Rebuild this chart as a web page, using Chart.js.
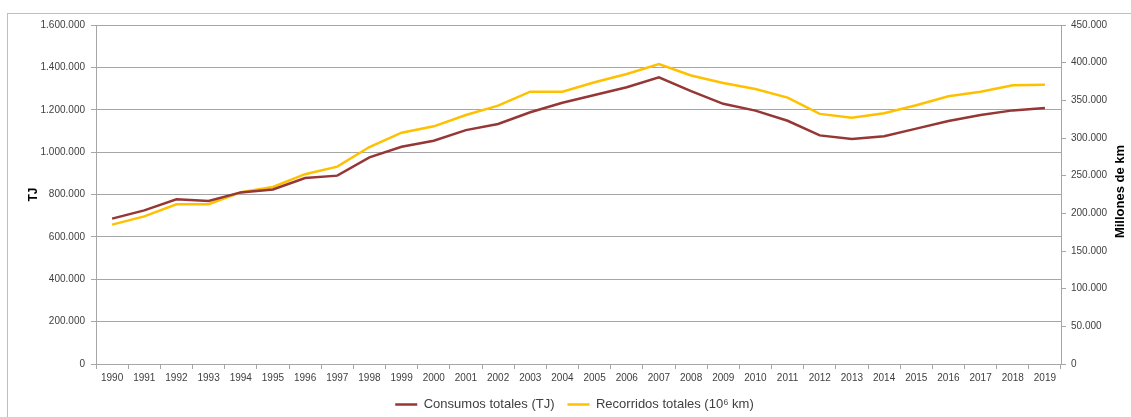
<!DOCTYPE html>
<html>
<head>
<meta charset="utf-8">
<script src="https://cdn.jsdelivr.net/npm/chart.js@4/dist/chart.umd.min.js"></script>
<style>
  html, body { margin: 0; padding: 0; background: #fff; }
  #wrap { position: relative; width: 1131px; height: 417px; }
  #frame { position: absolute; left: 7px; top: 13px; width: 1130px; height: 410px; border: 1px solid #bfbfbf; box-sizing: border-box; }
  canvas { position: absolute; left: 0; top: 0; }
</style>
</head>
<body>
<div id="wrap">
  <div id="frame"></div>
  <canvas id="myChart" width="1131" height="417"></canvas>
</div>
<script>
// data
const years = ['1990','1991','1992','1993','1994','1995','1996','1997','1998','1999',
  '2000','2001','2002','2003','2004','2005','2006','2007','2008','2009',
  '2010','2011','2012','2013','2014','2015','2016','2017','2018','2019'];

// TJ, left axis
const consumos = [686000, 725000, 777000, 769000, 810000, 824000, 878000, 889000, 975000, 1025000,
  1054000, 1104000, 1133000, 1188000, 1233000, 1270000, 1306000, 1353000, 1288000, 1228000,
  1196000, 1148000, 1079000, 1062000, 1075000, 1111000, 1147000, 1175000, 1197000, 1208000];

// millones de km, right axis
const recorridos = [185000, 196000, 212000, 212000, 228000, 235000, 252000, 262000, 288000, 307000,
  315500, 330500, 343000, 361500, 361500, 374000, 385000, 398000, 383000, 373000,
  365000, 353600, 332000, 327000, 332800, 343400, 355300, 361500, 370000, 370800];

const leftTicks = [0, 200000, 400000, 600000, 800000, 1000000, 1200000, 1400000, 1600000];
const rightTicks = [0, 50000, 100000, 150000, 200000, 250000, 300000, 350000, 400000, 450000];

const fmt = v => String(v).replace(/\B(?=(\d{3})+(?!\d))/g, '.');

const tickFont = { family: 'Liberation Sans', size: 10 };
const textColor = '#404040';

// right axis title reads bottom-to-top, like Excel
const rightTitle = {
    id: 'rightTitle',
    afterDraw(chart) {
        const { ctx, chartArea } = chart;
        ctx.save();
        ctx.translate(1120, (chartArea.top + chartArea.bottom) / 2 - 3);
        ctx.rotate(-Math.PI / 2);
        ctx.fillStyle = '#000';
        ctx.font = 'bold 13px "Liberation Sans"';
        ctx.textAlign = 'center';
        ctx.textBaseline = 'middle';
        ctx.fillText('Millones de km', 0, 0);
        ctx.restore();
    }
};

const ctx = document.getElementById('myChart').getContext('2d');
new Chart(ctx, {
    type: 'line',
    data: {
        labels: years,
        datasets: [{
            label: 'Consumos totales (TJ)',
            data: consumos,
            borderColor: '#953735',
            backgroundColor: '#953735',
            borderWidth: 2.5,
            pointRadius: 0,
            tension: 0,
            yAxisID: 'y'
        }, {
            label: 'Recorridos totales (10\u2076 km)',
            data: recorridos,
            borderColor: '#FFC000',
            backgroundColor: '#FFC000',
            borderWidth: 2.5,
            pointRadius: 0,
            tension: 0,
            yAxisID: 'y1'
        }]
    },
    plugins: [rightTitle],
    options: {
        responsive: false,
        animation: false,
        layout: { padding: { left: 22, right: 4, top: 25, bottom: -4 } },
        plugins: {
            tooltip: { enabled: false },
            legend: {
                position: 'bottom',
                labels: {
                    usePointStyle: true,
                    pointStyle: 'line',
                    pointStyleWidth: 22,
                    boxWidth: 22,
                    boxHeight: 2,
                    padding: 13,
                    color: textColor,
                    font: { family: 'Liberation Sans', size: 13 }
                }
            }
        },
        scales: {
            x: {
                offset: true,
                afterFit: s => { s.height = 21; },
                grid: { display: true, drawOnChartArea: false, offset: true, tickLength: 5, color: '#a6a6a6' },
                border: { color: '#a6a6a6' },
                ticks: { color: textColor, font: tickFont, maxRotation: 0, autoSkip: false, padding: 3 }
            },
            y: {
                position: 'left',
                min: 0,
                max: 1600000,
                afterBuildTicks: s => { s.ticks = leftTicks.map(v => ({ value: v })); },
                afterFit: s => { s.width = 74; },
                grid: { color: '#a6a6a6', tickLength: 5 },
                border: { color: '#a6a6a6' },
                ticks: { color: textColor, font: tickFont, padding: 6, callback: v => fmt(v) },
                title: { display: true, text: 'TJ', color: '#000', font: { family: 'Liberation Sans', size: 12, weight: 'bold' } }
            },
            y1: {
                position: 'right',
                min: 0,
                max: 450000,
                afterBuildTicks: s => { s.ticks = rightTicks.map(v => ({ value: v })); },
                afterFit: s => { s.width = 66; },
                grid: { drawOnChartArea: false, color: '#a6a6a6', tickLength: 5 },
                border: { color: '#a6a6a6' },
                ticks: { color: textColor, font: tickFont, padding: 5, callback: v => fmt(v) }
            }
        }
    }
});
</script>
</body>
</html>
